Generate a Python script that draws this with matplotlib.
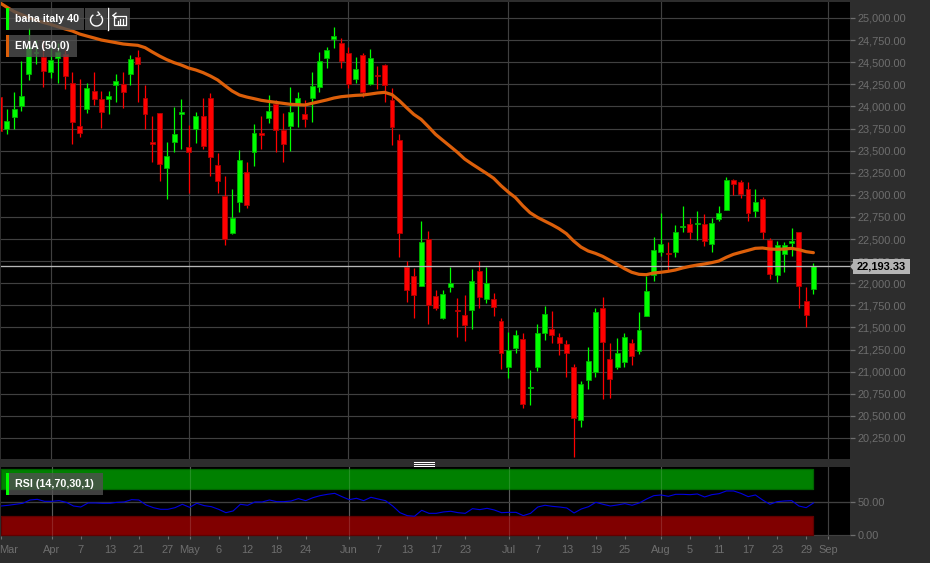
import matplotlib
matplotlib.use("Agg")
import matplotlib.pyplot as plt
from matplotlib.patches import Rectangle, Arc, Polygon
from matplotlib.lines import Line2D
from matplotlib.transforms import ScaledTranslation
import numpy as np

plt.rcParams['font.family'] = ['Liberation Sans', 'DejaVu Sans']

# daily candles
opens = [24103, 23745, 23877, 24005, 24367, 24608, 24563, 24389, 24551, 24589,
         24261, 23775, 23971, 24178, 24084, 24080, 24242, 24250, 24370, 24559,
         24099, 23598, 23922, 23307, 23598, 23918, 23541, 23741, 23892, 24095,
         23334, 22991, 22572, 22919, 23254, 23484, 23696, 23865, 24027, 23730,
         23778, 24035, 23910,
         24099, 24220, 24548, 24762, 24713, 24600, 24306, 24578, 24254, 24359,
         24472, 24073, 23620, 22188, 22082, 21969, 22500, 21860, 21607, 21961,
         21697, 21641, 21697, 22142, 21818, 21822, 21569, 21049, 21264, 21370,
         20819, 21049, 21434, 21482, 21392, 21317, 21053, 20453, 20910, 20996,
         21716, 21143, 21057,
         21106, 21324, 21234, 21633, 22093, 22357, 22346, 22357, 22636, 22670,
         22666, 22670, 22448, 22727, 22828, 23168, 23145, 23070, 22813, 22949,
         22493, 22093, 22331, 22455, 22580, 21803, 21939]
highs = [24110, 23967, 24159, 24514, 24883, 24751, 24751, 24657, 24713, 24638,
         24393, 24314, 24261, 24385, 24178, 24171, 24363, 24393, 24578, 24638,
         24246, 23895, 23929, 23601, 23990, 24080, 23790, 23933, 24091, 24155,
         23477, 23209, 23062, 23503, 23368, 23797, 23888, 24129, 24073, 23922,
         24216, 24159, 24073,
         24393, 24619, 24668, 24894, 24770, 24676, 24563, 24600, 24646, 24461,
         24480, 24205, 23688, 22255, 22169, 22700, 22587, 21924, 21920, 22180,
         21829, 21863, 22157, 22248, 22180, 21886, 21603, 21452, 21471, 21434,
         21019, 21539, 21743, 21686, 21441, 21358, 21083, 20895, 21283, 21716,
         21841, 21320, 21377,
         21441, 21366, 21671, 22082, 22519, 22798, 22463, 22655, 22878, 22734,
         22821, 22780, 22734, 22878, 23198, 23175, 23168, 23149, 23062, 22972,
         22508, 22482, 22463, 22621, 22580, 21954, 22233]
lows = [23722, 23692, 23748, 23952, 24303, 24476, 24223, 24325, 24261, 24193,
        23579, 23650, 23929, 24012, 23752, 23918, 24054, 23986, 24246, 24054,
        23741, 23375, 23153, 22949, 23488, 23522, 23017, 23590, 23522, 23217,
        23017, 22429, 22557, 22810, 22855, 23330, 23522, 23816, 23488, 23375,
        23500, 23771, 23771,
        23828, 24167, 24431, 24657, 24438, 24212, 24269, 24103, 24246, 24193,
        24054, 23567, 22301, 21788, 21611, 21969, 21535, 21697, 21596, 21905,
        21388, 21343, 21486, 21724, 21780, 21633, 21034, 20925, 21215, 20585,
        20627, 21011, 21358, 21320, 21185, 20936, 20031, 20370, 20800, 20936,
        20687, 20698, 21026,
        21057, 21079, 21196, 21633, 22029, 22308, 22150, 22293, 22583, 22497,
        22489, 22425, 22357, 22708, 22828, 22998, 22960, 22708, 22753, 22497,
        22044, 22018, 22131, 22312, 21716, 21509, 21878]
closes = [23726, 23835, 23971, 24122, 24676, 24619, 24404, 24521, 24619, 24348,
          23824, 23696, 24208, 24084, 23937, 24118, 24287, 24163, 24536, 24476,
          23918, 23575, 23349, 23439, 23692, 23937, 23488, 23895, 23552, 23424,
          23156, 22500, 22742, 23398, 22885, 23703, 23677, 23944, 23733, 23575,
          23941, 24095, 23861,
          24231, 24517, 24638, 24796, 24510, 24254, 24419, 24163, 24548, 24348,
          24238, 23771, 22568, 21920, 21863, 22467, 21750, 21720, 21878, 22006,
          21686, 21524, 22022, 21841, 21999, 21735, 21211, 21241, 21419, 20630,
          20830, 21441, 21656, 21415, 21320, 21207, 20476, 20861, 21125, 21679,
          21332, 20917, 21211,
          21388, 21174, 21468, 21912, 22376, 22444, 22331, 22576, 22651, 22583,
          22681, 22474, 22681, 22798, 23168, 23123, 23006, 22795, 22923, 22580,
          22105, 22429, 22429, 22478, 21969, 21641, 22193]

ema = [25173, 25121, 25072, 25038, 25004, 24977, 24951, 24928, 24902, 24876,
       24853, 24819, 24796, 24774, 24751, 24736, 24721, 24706, 24698, 24691,
       24665, 24616, 24570, 24529, 24495, 24468, 24434, 24412, 24382, 24344,
       24299, 24235, 24174, 24129, 24106, 24088, 24069, 24057, 24046, 24035,
       24024, 24020, 24016,
       24035, 24054, 24073, 24095, 24110, 24118, 24125, 24129, 24140, 24152,
       24159, 24133, 24065, 23986, 23910, 23854, 23771, 23684, 23616, 23549,
       23481, 23405, 23349, 23296, 23243, 23187, 23104, 23032, 22968, 22877,
       22798, 22746, 22704, 22663, 22617, 22561, 22478, 22410, 22365, 22338,
       22304, 22259, 22214,
       22165, 22124, 22101, 22097, 22116, 22124, 22135, 22150, 22173, 22191,
       22206, 22218, 22233, 22252, 22293, 22327, 22350, 22372, 22395, 22399,
       22387, 22384, 22387, 22395, 22380, 22357, 22346]

rsi = [44.4, 45.5, 47.0, 48.5, 53.5, 54.5, 51.5, 51.5, 52.5, 50.0,
       44.4, 42.9, 49.0, 49.0, 48.5, 48.5, 50.0, 50.5, 54.0, 53.5,
       46.0, 41.9, 39.4, 39.4, 41.9, 47.0, 42.4, 48.5, 45.0, 43.4,
       39.4, 34.3, 36.9, 47.0, 45.5, 50.5, 50.5, 53.5, 51.0, 51.0,
       52.0, 55.6, 52.5, 57.0, 60.1, 62.1, 63.6, 58.6, 54.0, 56.1,
       52.5, 57.6, 55.0, 52.5, 44.4, 34.3, 29.8, 28.8, 37.9, 33.3,
       33.3, 35.4, 36.4, 34.3, 33.3,
       40.4, 38.9, 40.9, 38.4, 34.3, 34.8, 34.8, 29.8, 33.3, 42.9,
       45.5, 43.9, 42.9, 41.4, 33.8, 39.9, 43.4, 50.0, 47.0, 44.4,
       46.0, 48.0, 45.5, 49.0, 55.0, 60.1, 61.1, 59.1, 62.1, 62.1,
       61.6, 62.6, 58.1, 61.6, 63.1, 67.2, 67.2, 63.6, 58.6, 61.1,
       53.5, 47.0, 51.0, 52.0, 52.5, 44.4, 41.9, 49.0]

last_price = 22193.33
price_ticks = [20250, 20500, 20750, 21000, 21250, 21500, 21750, 22000, 22250,
               22500, 22750, 23000, 23250, 23500, 23750, 24000, 24250, 24500,
               24750, 25000]
rsi_ticks = [0, 50]
date_pos = [0, 7, 11, 15, 19, 23, 26, 30, 34, 38, 42, 48, 52, 56, 60, 64, 70,
            74, 78, 82, 86, 91, 95, 99, 103, 107, 111, 114]
date_labels = ['Mar', 'Apr', '7', '13', '21', '27', 'May', '6', '12', '18', '24',
               'Jun', '7', '13', '17', '23', 'Jul', '7', '13', '19', '25', 'Aug',
               '5', '11', '17', '23', '29', 'Sep']
month_pos = [7, 26, 48, 70, 91, 114]

W, H = 930, 563
BG, GRID, TXT = '#2d2d2d', '#404040', '#6e6e6e'
GREEN, RED = '#00ff00', '#ff0000'
ORANGE = '#dc5f0a'

def fx(x):
    return x / W

def fy(y):
    return 1 - y / H

def box(x0, y0, x1, y1, color, alpha=1.0):
    fig.add_artist(Rectangle((fx(x0), fy(y1)), (x1 - x0) / W, (y1 - y0) / H,
                             transform=fig.transFigure, fc=color, ec='none', alpha=alpha))

def seg(xs, ys, color='white', lw=0.9):
    fig.add_artist(Line2D([fx(x) for x in xs], [fy(y) for y in ys],
                          transform=fig.transFigure, color=color, lw=lw))

def style_axis(ax):
    ax.set_facecolor('black')
    for s in ax.spines.values():
        s.set_visible(False)
    ax.yaxis.tick_right()
    ax.tick_params(axis='y', colors=TXT, length=3.6, width=0.9, pad=1.6, labelsize=7.95)
    ax.grid(axis='y', color=GRID, lw=0.85, zorder=0)
    for m in month_pos:
        ax.axvline(m, color=GRID, lw=0.85, zorder=0)
    ax.set_xlim((1 + 0.3) / 7.265, (850 + 0.3) / 7.265)

fig = plt.figure(figsize=(W / 100, H / 100), dpi=100, facecolor=BG)

# main price panel
ax = fig.add_axes([fx(1), fy(459), 849 / W, 457 / H])
style_axis(ax)
idx = np.arange(len(opens))
for i in idx:
    up = closes[i] >= opens[i]
    col, edge = (GREEN, '#00b000') if up else (RED, '#b00000')
    ax.vlines(i, lows[i], highs[i], color=col, lw=0.9, zorder=2)
    lo, hi = min(opens[i], closes[i]), max(opens[i], closes[i])
    ax.add_patch(Rectangle((i - 0.34, lo), 0.68, hi - lo, fc=col, ec=edge, lw=0.6, zorder=3))
ax.axhline(last_price, color='#b8b8b8', lw=0.95, zorder=4)
ax.plot(idx, ema, color=ORANGE, lw=2.3, zorder=5, solid_capstyle='round')
ax.set_ylim(25000 - 441 * 11.31, 25000 + 16 * 11.31)
ax.set_yticks(price_ticks)
ax.set_yticklabels(['{:,.2f}'.format(v) for v in price_ticks])
ax.set_xticks([])

# rsi panel
ax2 = fig.add_axes([fx(1), fy(536.3), 849 / W, 69.3 / H])
style_axis(ax2)
ax2.fill_between(idx, 70, 100, fc='#008000', ec='#006400', lw=0.9, zorder=2)
ax2.fill_between(idx, 0, 30, fc='#800000', ec='#600000', lw=0.9, zorder=2)
for m in month_pos[:-1]:
    ax2.axvline(m, color='#ffffff', alpha=0.14, lw=0.85, zorder=3)
ax2.axhline(50, color=GRID, lw=0.85, zorder=3)
ax2.plot(idx, rsi, color='#0000e0', lw=0.8, zorder=4)
ax2.set_ylim(-1.5, 103.5)
ax2.set_yticks(rsi_ticks)
ax2.set_yticklabels(['{:.2f}'.format(v) for v in rsi_ticks])
ax2.set_xticks(date_pos)
ax2.set_xticklabels(date_labels)
ax2.tick_params(axis='x', colors=TXT, length=2, width=0.8, pad=4.2, labelsize=7.95)
first = ax2.get_xticklabels()[0]
first.set_ha('left')
first.set_transform(first.get_transform() + ScaledTranslation(-1.5 / 100, 0, fig.dpi_scale_trans))

# last price tag
fig.add_artist(Polygon([(fx(850), fy(266.5)), (fx(853), fy(263)), (fx(853), fy(270))],
                       transform=fig.transFigure, fc='#b4b4b4', ec='none'))
box(853, 259, 910, 273.5, '#b4b4b4')
fig.text(fx(881.5), fy(266.5), '{:,.2f}'.format(last_price), color='black', weight='bold',
         fontsize=7.95, ha='center', va='center')

# overlay labels
for (x0, y0, x1, y1, bar, label) in [(6, 8, 84, 30, GREEN, 'baha italy 40'),
                                     (6, 35, 77, 57, ORANGE, 'EMA (50,0)'),
                                     (6, 473, 103, 495, GREEN, 'RSI (14,70,30,1)')]:
    box(x0, y0, x1, y1, '#505050', 0.8)
    box(x0, y0, x0 + 3, y1, bar)
    fig.text(fx(15), fy((y0 + y1) / 2), label, color='white', weight='bold', fontsize=7.7,
             ha='left', va='center')

# refresh and history buttons
box(85, 8, 107, 30, '#505050', 0.8)
box(109, 8, 130, 30, '#505050', 0.8)
seg([107.5, 107.5], [8, 30], lw=1.0)
fig.add_artist(Arc((fx(96.5), fy(20)), 12 / W, 12 / H, theta1=-250, theta2=60,
                   transform=fig.transFigure, color='white', lw=1.0))
seg([98, 100, 97], [12, 14.5, 15.5], lw=0.9)
seg([114, 125.5, 125.5, 114, 114], [15.5, 15.5, 24.5, 24.5, 15.5], lw=0.9)
seg([113, 116], [15.5, 13], lw=0.9)
seg([113, 116], [15.5, 18], lw=0.9)
for bx, top in [(117.5, 21), (120, 19), (122.5, 19)]:
    seg([bx, bx], [top, 23.5], lw=0.9)

# splitter grip
for gy in [462, 463.8, 465.6]:
    seg([414, 434], [gy, gy], lw=0.75)

fig.savefig('out.png', dpi=100, facecolor=BG)
